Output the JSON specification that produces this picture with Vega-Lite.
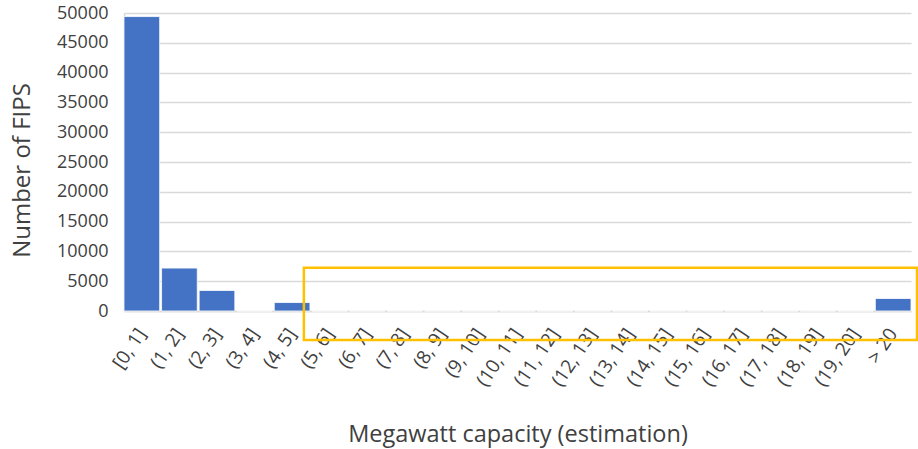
{
  "$schema": "https://vega.github.io/schema/vega-lite/v6.json",
  "autosize": {"type": "none"},
  "width": 787,
  "height": 298,
  "padding": {"left": 124, "top": 13, "right": 7, "bottom": 138},
  "background": "white",
  "config": {
    "view": {"stroke": null},
    "font": "Open Sans",
    "axis": {"labelColor": "#404040", "titleColor": "#404040", "titleFontWeight": "normal", "ticks": false},
    "axisY": {"grid": true, "gridColor": "#d9d9d9", "gridWidth": 1.5, "domain": true, "domainColor": "#d9d9d9", "domainWidth": 1.5, "labelOverlap": false},
    "axisX": {"grid": false, "domain": true, "domainColor": "#d9d9d9", "domainWidth": 1.5}
  },
  "datasets": {
    "bins": [
      {"range": "[0, 1]", "count": 49400},
      {"range": "(1, 2]", "count": 7200},
      {"range": "(2, 3]", "count": 3450},
      {"range": "(3, 4]", "count": 0},
      {"range": "(4, 5]", "count": 1420},
      {"range": "(5, 6]", "count": 0},
      {"range": "(6, 7]", "count": 0},
      {"range": "(7, 8]", "count": 0},
      {"range": "(8, 9]", "count": 0},
      {"range": "(9, 10]", "count": 0},
      {"range": "(10, 11]", "count": 0},
      {"range": "(11, 12]", "count": 0},
      {"range": "(12, 13]", "count": 0},
      {"range": "(13, 14]", "count": 0},
      {"range": "(14, 15]", "count": 0},
      {"range": "(15, 16]", "count": 0},
      {"range": "(16, 17]", "count": 0},
      {"range": "(17, 18]", "count": 0},
      {"range": "(18, 19]", "count": 0},
      {"range": "(19, 20]", "count": 0},
      {"range": "> 20", "count": 2100}
    ],
    "highlight": [
      {"start": 4.8, "end": 21.16, "low": -4870, "high": 7250}
    ]
  },
  "layer": [
    {
      "data": {"name": "bins"},
      "mark": {"type": "bar", "color": "#4472C4", "stroke": "#ffffff", "strokeWidth": 0.8},
      "encoding": {
        "x": {
          "field": "range",
          "type": "nominal",
          "sort": null,
          "scale": {"paddingInner": 0.05, "paddingOuter": 0},
          "axis": {
            "title": "Megawatt capacity (estimation)",
            "titleFontSize": 23.5,
            "titleY": 130,
            "titleBaseline": "alphabetic",
            "labelAngle": -56,
            "labelFontSize": 19,
            "labelPadding": 19,
            "labelOverlap": false
          }
        },
        "y": {
          "field": "count",
          "type": "quantitative",
          "scale": {"domain": [0, 50000], "nice": false},
          "axis": {
            "title": "Number of FIPS",
            "titleFontSize": 24,
            "titleAngle": -90,
            "titleX": -102,
            "titleY": 157,
            "titleBaseline": "middle",
            "titleAlign": "center",
            "values": [0, 5000, 10000, 15000, 20000, 25000, 30000, 35000, 40000, 45000, 50000],
            "format": "d",
            "labelFontSize": 18,
            "labelPadding": 16,
            "labelOverlap": false,
            "grid": true
          }
        }
      }
    },
    {
      "data": {"name": "highlight"},
      "mark": {"type": "rect", "filled": false, "stroke": "#FFC000", "strokeWidth": 2.5, "clip": false},
      "encoding": {
        "x": {"field": "start", "type": "quantitative", "scale": {"domain": [0, 21], "nice": false, "zero": false}, "axis": null},
        "x2": {"field": "end"},
        "y": {"field": "low", "type": "quantitative", "axis": null},
        "y2": {"field": "high"}
      }
    }
  ],
  "resolve": {
    "scale": {"x": "independent"},
    "axis": {"x": "independent", "y": "independent"}
  }
}
